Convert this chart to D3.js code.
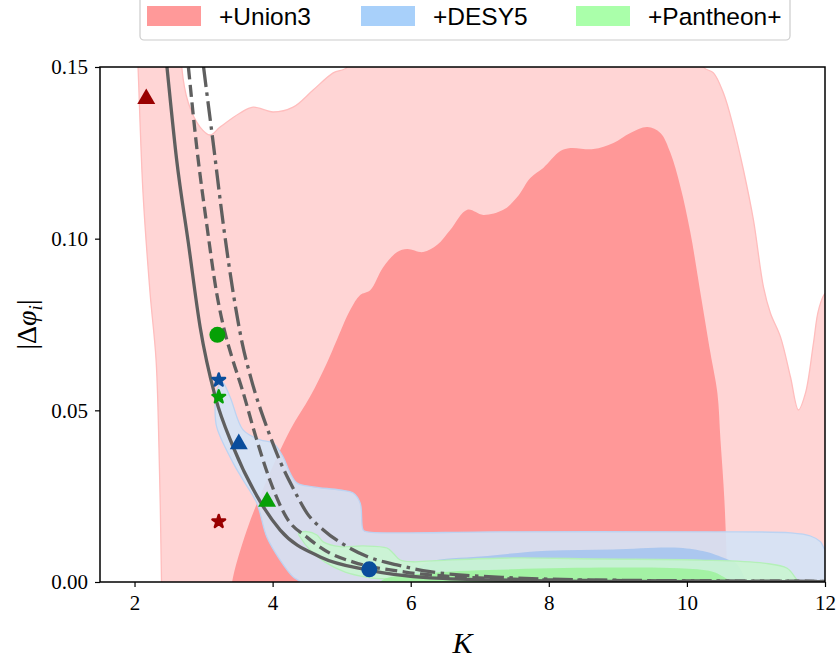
<!DOCTYPE html>
<html>
<head>
<meta charset="utf-8">
<script src="https://cdn.jsdelivr.net/npm/d3@7/dist/d3.min.js"></script>
<style>
  body { margin: 0; background: #fff; }
  .tick text { font-family: "Liberation Serif", serif; font-size: 21px; fill: #000; }
  .tick line { stroke: #000; stroke-width: 1.2px; }
  .legend text { font-family: "Liberation Sans", Arial, sans-serif; font-size: 24.5px; }
</style>
</head>
<body>
<div id="chart"></div>
<script>
// theory curves, [K, |dphi|]
const solidCurve = [[2.42,0.16],[2.47,0.15],[2.61,0.123],[2.78,0.0987],[2.95,0.0743],[3.17,0.0539],[3.43,0.0393],[3.78,0.0248],[4.11,0.0151],[4.69,0.0073],[5.37,0.0035],[6.28,0.0012],[7.5,0.0005],[9,0.0002],[12,0.0001]];
const dashedCurve = [[2.73,0.16],[2.78,0.15],[2.9,0.1268],[3.05,0.1035],[3.19,0.0841],[3.3,0.0734],[3.4,0.0662],[3.57,0.0554],[3.77,0.0414],[3.96,0.0297],[4.2,0.0188],[4.5,0.013],[4.83,0.0084],[5.17,0.0058],[5.92,0.0029],[7,0.0012],[8.5,0.0005],[12,0.0002]];
const dashDotCurve = [[2.94,0.16],[3.0,0.15],[3.14,0.1278],[3.29,0.1035],[3.43,0.0841],[3.56,0.0695],[3.68,0.0598],[3.93,0.0443],[4.12,0.0346],[4.31,0.0268],[4.5,0.02],[4.74,0.0151],[5.08,0.0103],[5.37,0.0074],[5.8,0.005],[6.28,0.003],[7.5,0.0012],[9,0.0005],[12,0.0002]];

// confidence regions (closed outlines)
const union3Outer = [[2.391,0],[2.355,0.0384],[2.312,0.0647],[2.225,0.0842],[2.123,0.1133],[2.051,0.15],[2.03,0.16],[2.68,0.16],[2.684,0.15],[2.78,0.1395],[2.949,0.1325],[3.094,0.1302],[3.239,0.1325],[3.529,0.1366],[3.717,0.1383],[4.007,0.1369],[4.297,0.1383],[4.587,0.1433],[4.877,0.1483],[5.08,0.15],[5.1,0.16],[10.22,0.16],[10.239,0.15],[10.384,0.1483],[10.529,0.1424],[10.674,0.1325],[10.819,0.12],[10.964,0.1054],[11.109,0.0859],[11.21,0.0783],[11.355,0.0714],[11.5,0.0597],[11.616,0.0501],[11.717,0.055],[11.833,0.0696],[11.906,0.0792],[12.007,0.0842],[12.2,0.086],[12.2,-0.005],[2.39,-0.005]];
const union3Inner = [[3.40,-0.005],[3.413,0],[3.626,0.0151],[3.916,0.0297],[4.254,0.0443],[4.543,0.054],[4.786,0.0638],[4.93,0.0705],[5.123,0.0792],[5.268,0.0836],[5.413,0.085],[5.601,0.0917],[5.804,0.0961],[5.949,0.097],[6.181,0.0961],[6.384,0.0982],[6.572,0.1025],[6.819,0.1084],[7.051,0.1069],[7.341,0.1084],[7.543,0.1121],[7.732,0.1177],[7.92,0.1206],[8.167,0.1255],[8.312,0.1264],[8.645,0.1261],[8.935,0.1279],[9.181,0.1308],[9.428,0.1325],[9.616,0.1308],[9.761,0.125],[9.906,0.1151],[10.051,0.1017],[10.196,0.0842],[10.341,0.0667],[10.442,0.055],[10.486,0.0414],[10.543,0.0239],[10.587,0],[10.59,-0.005]];
const desy5Outer = [[3.268,0.0583],[3.384,0.0539],[3.572,0.0443],[3.819,0.0414],[4.007,0.0405],[4.152,0.0364],[4.254,0.0317],[4.355,0.0288],[4.587,0.0277],[4.978,0.0268],[5.167,0.0259],[5.268,0.023],[5.312,0.0151],[5.37,0.0146],[7.297,0.0146],[10.196,0.0146],[11.5,0.0143],[11.79,0.0134],[11.935,0.0117],[12.007,0.0093],[12.2,0.008],[12.2,-0.005],[4.42,-0.005],[4.399,0],[4.297,0.0015],[4.109,0.0064],[3.916,0.0131],[3.771,0.023],[3.572,0.0297],[3.428,0.0347],[3.191,0.0451],[3.167,0.051],[3.196,0.0559]];
const desy5Inner = [[5.95,-0.005],[6.05,0.003],[6.283,0.0059],[7.007,0.0074],[7.974,0.0091],[8.923,0.0095],[9.884,0.01],[10.275,0.0088],[10.609,0.0064],[10.71,0.0055],[10.855,0],[10.87,-0.005]];
const pantheonOuter = [[4.374,0.0142],[4.496,0.0147],[4.641,0.0137],[4.732,0.0117],[4.978,0.0103],[5.312,0.0105],[5.655,0.0099],[5.746,0.0084],[5.848,0.0064],[6.036,0.0059],[6.525,0.0064],[7.486,0.007],[8.746,0.0067],[10.196,0.0064],[11.109,0.0055],[11.452,0.004],[11.597,0.0006],[11.645,0],[11.65,-0.005],[5.84,-0.005],[5.848,0],[5.413,0.0012],[5.051,0.0029],[4.761,0.0058],[4.543,0.0093],[4.399,0.0131]];
const pantheonInner = [[5.55,-0.005],[5.558,0],[6.283,0.0026],[7.486,0.0037],[8.923,0.0042],[9.884,0.004],[10.372,0.003],[10.609,0.0006],[10.667,0],[10.67,-0.005]];

// best-fit markers
const triangles = [{k:2.17, v:0.1407, c:"#990000"},{k:3.51, v:0.0402, c:"#0a4d9c"},{k:3.92, v:0.0234, c:"#06a006"}];
const circles = [{k:3.2, v:0.072, c:"#06a006"},{k:5.4, v:0.0037, c:"#0a4d9c"}];
const stars = [{k:3.22, v:0.0588, c:"#0a4d9c"},{k:3.22, v:0.0539, c:"#06a006"},{k:3.22, v:0.0176, c:"#990000"}];

const legendNames = ["+Union3", "+DESY5", "+Pantheon+"];
const legendColors = ["#ff9999", "#a8d0fa", "#aaffaa"];
const xTicks = [2, 4, 6, 8, 10, 12];
const yTicks = [0, 0.05, 0.10, 0.15];

const W = 837, H = 662;
const margin = {top: 67, right: 12, bottom: 80, left: 100};
const width = W - margin.left - margin.right;
const height = H - margin.top - margin.bottom;

const x = d3.scaleLinear().domain([1.5, 12]).range([0, width]);
const y = d3.scaleLinear().domain([0, 0.15]).range([height, 0]);

const svg = d3.select("#chart").append("svg")
  .attr("width", W).attr("height", H);

const g = svg.append("g")
  .attr("transform", "translate(" + margin.left + "," + margin.top + ")");

g.append("clipPath").attr("id", "clip")
  .append("rect").attr("width", width).attr("height", height);

const plot = g.append("g").attr("clip-path", "url(#clip)");

const area = d3.line()
  .x(d => x(d[0]))
  .y(d => y(d[1]))
  .curve(d3.curveCatmullRomClosed.alpha(0.5));

function region(data, fill, opacity, stroke) {
  plot.append("path")
    .attr("d", area(data))
    .attr("fill", fill)
    .attr("fill-opacity", opacity)
    .attr("stroke", stroke || "none")
    .attr("stroke-width", 1.3);
}

region(union3Outer, "#ffd5d5", 1, "#ffbdbd");
region(union3Inner, "#ff9898", 1);
region(desy5Outer, "#d4e3f6", 0.9, "#bcd3f2");
region(desy5Inner, "#a6c4ee", 0.9);
region(pantheonOuter, "#caf5d2", 0.9, "#b4f0b8");
region(pantheonInner, "#9ef29e", 0.9);

const line = d3.line()
  .x(d => x(d[0]))
  .y(d => y(d[1]))
  .curve(d3.curveMonotoneX);

function curve(data, dash) {
  plot.append("path")
    .attr("d", line(data))
    .attr("fill", "none")
    .attr("stroke", "#5f5f5f")
    .attr("stroke-width", 3.3)
    .attr("stroke-dasharray", dash);
}
curve(solidCurve, null);
curve(dashedCurve, "12,5.5");
curve(dashDotCurve, "20,5.5,3.5,5.5");

plot.selectAll(".tri").data(triangles).enter().append("path")
  .attr("transform", d => "translate(" + x(d.k) + "," + y(d.v) + ")")
  .attr("d", d3.symbol(d3.symbolTriangle, 140))
  .attr("fill", d => d.c);

plot.selectAll(".circ").data(circles).enter().append("path")
  .attr("transform", d => "translate(" + x(d.k) + "," + y(d.v) + ")")
  .attr("d", d3.symbol(d3.symbolCircle, 200))
  .attr("fill", d => d.c);

plot.selectAll(".star").data(stars).enter().append("path")
  .attr("transform", d => "translate(" + x(d.k) + "," + y(d.v) + ")")
  .attr("d", d3.symbol(d3.symbolStar, 50))
  .attr("fill", d => d.c)
  .attr("stroke", d => d.c)
  .attr("stroke-width", 2.4)
  .attr("stroke-linejoin", "round");

// axes
g.append("g")
  .attr("transform", "translate(0," + height + ")")
  .call(d3.axisBottom(x).tickValues(xTicks).tickFormat(d3.format("d")).tickSize(5).tickSizeOuter(0).tickPadding(8))
  .call(a => a.select(".domain").remove());

g.append("g")
  .call(d3.axisLeft(y).tickValues(yTicks).tickFormat(d3.format(".2f")).tickSize(5).tickSizeOuter(0).tickPadding(7))
  .call(a => a.select(".domain").remove());

g.append("rect")
  .attr("width", width).attr("height", height)
  .attr("fill", "none").attr("stroke", "#000").attr("stroke-width", 1.5);

// axis labels
svg.append("text")
  .attr("x", margin.left + width / 2).attr("y", 653)
  .attr("text-anchor", "middle")
  .style("font-family", "'Liberation Serif', serif")
  .style("font-style", "italic")
  .style("font-size", "30px")
  .text("K");

const yl = svg.append("text")
  .attr("transform", "translate(36," + (margin.top + height / 2) + ") rotate(-90)")
  .attr("text-anchor", "middle")
  .style("font-family", "'Liberation Serif', serif")
  .style("font-size", "28px");
yl.append("tspan").text("|Δ");
yl.append("tspan").style("font-style", "italic").text("φ");
yl.append("tspan").style("font-style", "italic").style("font-size", "19px").attr("dy", 6).text("i");
yl.append("tspan").attr("dy", -6).text("|");

// legend
const leg = svg.append("g").attr("class", "legend");
leg.append("rect")
  .attr("x", 140).attr("y", -10).attr("width", 650).attr("height", 50)
  .attr("rx", 4).attr("fill", "#fff").attr("stroke", "#cccccc").attr("stroke-width", 1.2);
const legX = [147, 361, 576];
legendNames.forEach((name, i) => {
  leg.append("rect")
    .attr("x", legX[i]).attr("y", 6).attr("width", 54).attr("height", 20)
    .attr("fill", legendColors[i]);
  leg.append("text")
    .attr("x", legX[i] + 72).attr("y", 25)
    .text(name);
});
</script>
</body>
</html>
